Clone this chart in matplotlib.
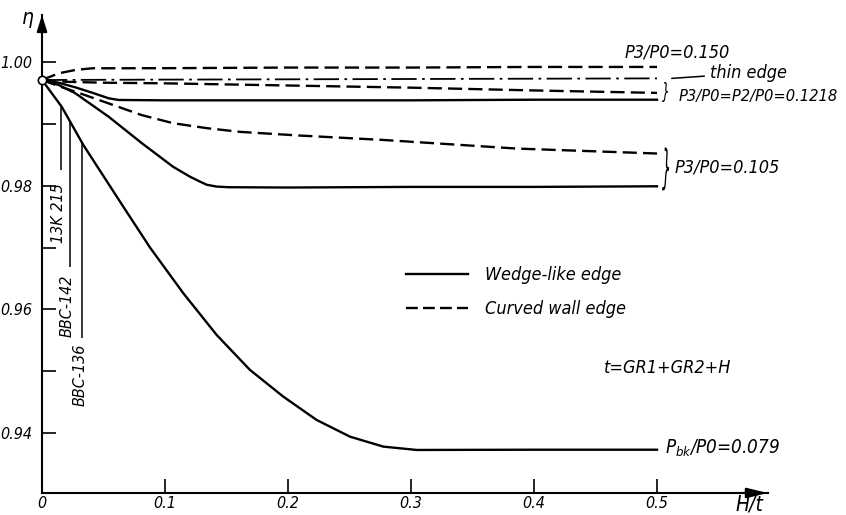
import numpy as np
import matplotlib
matplotlib.use("Agg")
import matplotlib.pyplot as plt
from matplotlib.lines import Line2D
from matplotlib.textpath import TextPath
from matplotlib.patches import PathPatch
from matplotlib.font_manager import FontProperties
from matplotlib.transforms import Affine2D, ScaledTranslation

plt.rcParams['font.family'] = ['DejaVu Sans']
plt.rcParams['font.stretch'] = 'condensed'
plt.rcParams['font.style'] = 'italic'
plt.rcParams['mathtext.fontset'] = 'custom'
plt.rcParams['mathtext.it'] = 'DejaVu Sans:italic'
plt.rcParams['mathtext.rm'] = 'DejaVu Sans:italic'

# curve data (H/t, eta)
h_150 = [0, 0.0136, 0.0271, 0.0407, 0.1, 0.2, 0.3, 0.4, 0.5]
eta_150 = [0.99709, 0.99817, 0.99871, 0.99898, 0.9990, 0.9991, 0.9991, 0.9992, 0.9992]

h_thin = [0, 0.1, 0.2, 0.3, 0.4, 0.5]
eta_thin = [0.99709, 0.99715, 0.9972, 0.99725, 0.9973, 0.99735]

h_1218_dash = [0, 0.02, 0.05, 0.1, 0.2, 0.3, 0.4, 0.5]
eta_1218_dash = [0.99709, 0.9968, 0.99665, 0.99655, 0.9962, 0.99585, 0.9954, 0.9950]

h_1218_solid = [0, 0.0136, 0.0271, 0.0407, 0.0542, 0.0623, 0.1, 0.2, 0.3, 0.4, 0.5]
eta_1218_solid = [0.99709, 0.99665, 0.9959, 0.99504, 0.99413, 0.99386, 0.9938, 0.9938, 0.9938, 0.9939, 0.9939]

h_105_dash = [0, 0.0136, 0.0271, 0.0542, 0.0813, 0.1067, 0.134, 0.161, 0.21, 0.277, 0.386, 0.5]
eta_105_dash = [0.99709, 0.9961, 0.9952, 0.9933, 0.9914, 0.9901, 0.9893, 0.9887, 0.9881, 0.9874, 0.9860, 0.9852]

h_105_solid = [0, 0.0136, 0.0271, 0.0542, 0.0813, 0.1065, 0.1203, 0.128, 0.1339, 0.142, 0.152,
               0.2, 0.3, 0.4, 0.5]
eta_105_solid = [0.99709, 0.99628, 0.99494, 0.99115, 0.98685, 0.98307, 0.98145, 0.9807, 0.98015,
                 0.97985, 0.97975, 0.9797, 0.9798, 0.9798, 0.9799]

h_079 = [0, 0.016, 0.0336, 0.0661, 0.0878, 0.1149, 0.142, 0.1691, 0.1962, 0.2233, 0.2504,
         0.2775, 0.3046, 0.4, 0.5]
eta_079 = [0.99709, 0.99277, 0.98658, 0.97660, 0.9700, 0.9626, 0.95586, 0.9502, 0.94588,
           0.94211, 0.93941, 0.9378, 0.93726, 0.9373, 0.9373]

# cascades marked on the H/t axis
cascade_names = ['13K 215', 'BBC-142', 'BBC-136']
cascade_h = [0.0154, 0.0228, 0.0328]
cascade_line_bottom = [0.9825, 0.9669, 0.9554]
cascade_text_y = [0.9756, 0.9606, 0.9494]

x_ticks = [0, 0.1, 0.2, 0.3, 0.4, 0.5]
x_labels = ['0', '0.1', '0.2', '0.3', '0.4', '0.5']
y_ticks = [0.94, 0.96, 0.98, 1.00]
y_labels = ['0.94', '0.96', '0.98', '1.00']
y_minor = [0.95, 0.97, 0.99]

fig = plt.figure(figsize=(8.46, 5.15), dpi=100)
ax = fig.add_axes([42 / 846, 22 / 515, 725.7 / 846, 478 / 515])
ax.set_xlim(0, 0.59)
ax.set_ylim(0.9303, 1.0076)

lw = 1.7
dash = (6, 2.6)
ax.plot(h_150, eta_150, color='black', lw=lw, dashes=dash)
ax.plot(h_thin, eta_thin, color='black', lw=1.3, dashes=(14, 3, 1.5, 3))
ax.plot(h_1218_dash, eta_1218_dash, color='black', lw=lw, dashes=dash)
ax.plot(h_1218_solid, eta_1218_solid, color='black', lw=lw)
ax.plot(h_105_dash, eta_105_dash, color='black', lw=lw, dashes=dash)
ax.plot(h_105_solid, eta_105_solid, color='black', lw=lw)
ax.plot(h_079, eta_079, color='black', lw=lw)
ax.plot([0], [eta_079[0]], 'o', ms=6, mfc='white', mec='black', mew=1.2, clip_on=False, zorder=5)

# cascade markers
for name, h, yb, yt in zip(cascade_names, cascade_h, cascade_line_bottom, cascade_text_y):
    ytop = np.interp(h, h_079, eta_079)
    ax.vlines(h, yb, ytop, color='black', lw=1.1)
    ax.text(h - 0.002, yt, name, rotation=90, ha='center', va='center', fontsize=11.5)

# axes styling
for s in ['top', 'right']:
    ax.spines[s].set_visible(False)
ax.spines['left'].set_linewidth(1.5)
ax.spines['bottom'].set_linewidth(1.5)
ax.set_xticks(x_ticks)
ax.set_xticklabels(x_labels)
ax.set_yticks(y_ticks)
ax.set_yticklabels(y_labels)
ax.set_yticks(y_minor, minor=True)
ax.tick_params(axis='both', which='both', direction='in', length=10, width=1.2, labelsize=11.5)
ax.tick_params(axis='y', pad=7)
ax.tick_params(axis='x', pad=2.5)

ax.annotate('', xy=(1.0, 0), xytext=(0.96, 0), xycoords='axes fraction',
            arrowprops=dict(arrowstyle='-|>,head_length=0.9,head_width=0.22', color='black',
                            lw=1.5, mutation_scale=14, shrinkA=0, shrinkB=0))
ax.annotate('', xy=(0, 1.0), xytext=(0, 0.96), xycoords='axes fraction',
            arrowprops=dict(arrowstyle='-|>,head_length=0.7,head_width=0.22', color='black',
                            lw=1.5, mutation_scale=14, shrinkA=0, shrinkB=0))
ax.text(-0.019, 1.0071, 'η', transform=ax.get_yaxis_transform(), ha='center', va='center',
        fontsize=15)
ax.text(0.575, -0.025, 'H/t', transform=ax.get_xaxis_transform(), ha='center', va='center',
        fontsize=15)


def brace(x, y, height_px, width_px):
    tp = TextPath((0, 0), '}', size=10, prop=FontProperties(family='DejaVu Sans'))
    ext = tp.get_extents()
    tr = (Affine2D().translate(-ext.x0 - ext.width / 2, -ext.y0 - ext.height / 2)
          .scale(width_px / ext.width, height_px / ext.height)
          + ScaledTranslation(x, y, ax.transData))
    ax.add_patch(PathPatch(tp, transform=tr, fc='black', lw=0, clip_on=False))


# curve labels
ax.text(0.474, 1.0016, 'P3/P0=0.150', ha='left', va='center', fontsize=13)
ax.annotate('thin edge', xy=(0.512, eta_thin[-1]), xytext=(0.543, 0.9982), ha='left',
            va='center', fontsize=13,
            arrowprops=dict(arrowstyle='-', color='black', lw=1.1, shrinkA=2, shrinkB=0))
brace(0.5065, 0.99515, 20, 6)
ax.text(0.5175, 0.99434, 'P3/P0=P2/P0=0.1218', ha='left', va='center', fontsize=11.8)
brace(0.507, 0.9827, 43, 7)
ax.text(0.5146, 0.98286, 'P3/P0=0.105', ha='left', va='center', fontsize=13)
ax.text(0.5065, 0.93758, '$P_{bk}$/P0=0.079', ha='left', va='center', fontsize=13.5)
ax.text(0.457, 0.9505, 't=GR1+GR2+H', ha='left', va='center', fontsize=13)

handles = [Line2D([], [], color='black', lw=lw),
           Line2D([], [], color='black', lw=lw, dashes=(5, 2.2))]
ax.legend(handles, ['Wedge-like edge', 'Curved wall edge'], loc='upper left',
          bbox_to_anchor=(390 / 846, 1 - 250 / 515), bbox_transform=fig.transFigure,
          frameon=False, fontsize=13, handlelength=3.4, handletextpad=0.95, labelspacing=0.9)

fig.savefig('out.png', dpi=100)
